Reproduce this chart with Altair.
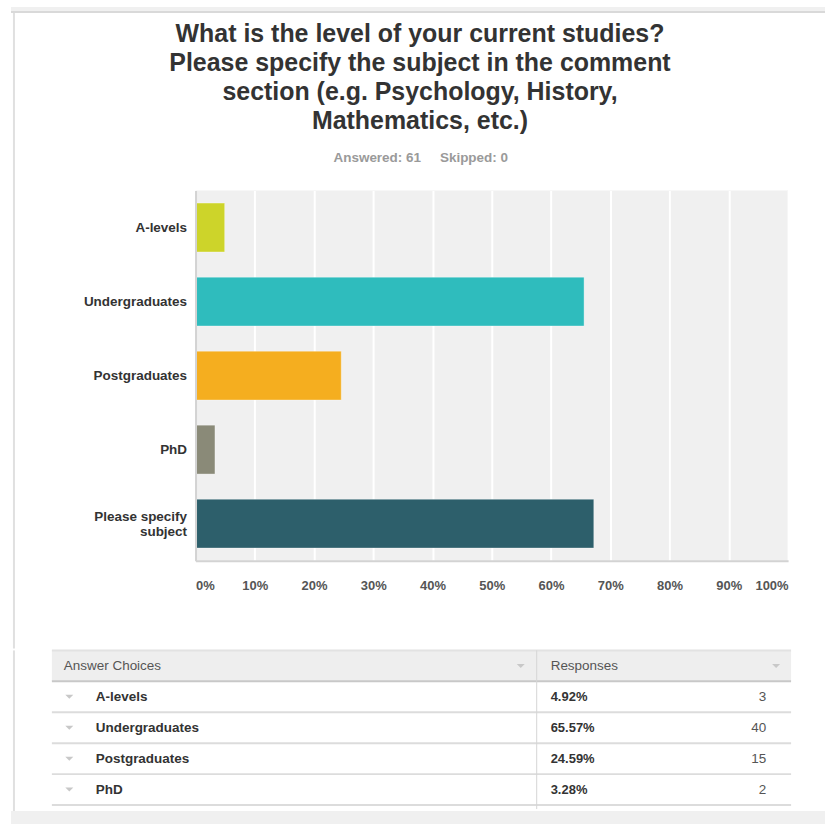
import altair as alt
import pandas as pd

# ---------------- data ----------------
categories = ["A-levels", "Undergraduates", "Postgraduates", "PhD", "Please specify subject"]
percents = [4.92, 65.57, 24.59, 3.28, 67.21]
counts = [3, 40, 15, 2, 41]
colors = ["#cdd42a", "#2fbcbd", "#f5ae1f", "#8a8a78", "#2d5f6b"]
x_ticks = [0, 10, 20, 30, 40, 50, 60, 70, 80, 90, 100]

title_lines = [
    "What is the level of your current studies?",
    "Please specify the subject in the comment",
    "section (e.g. Psychology, History,",
    "Mathematics, etc.)",
]
answered_text = "Answered: 61"
skipped_text = "Skipped: 0"

header_left = "Answer Choices"
header_right = "Responses"
table_names = ["A-levels", "Undergraduates", "Postgraduates", "PhD"]
table_pcts = ["4.92%", "65.57%", "24.59%", "3.28%"]
table_counts = [3, 40, 15, 2]

FONT = "Liberation Sans"

# ---------------- layout (absolute page px) ----------------
PL, PT, PW, PH = 195, 190, 594, 371      # bar plot area
TT, TH = 649, 161                        # table top / height
TX = PL                                  # table view shares the bar plot's left edge
T_LEFT, T_RIGHT = 51, 792                # table box edges (absolute)

one = pd.DataFrame({"d": [0]})

# ---------------- bar chart ----------------
bar_df = pd.DataFrame({"cat": categories, "pct": percents, "n": counts})

x_enc = alt.X(
    "pct:Q",
    scale=alt.Scale(domain=[0, 100], nice=False),
    axis=alt.Axis(
        title=None, values=x_ticks, labelExpr="datum.value + '%'", labelFlush=True,
        labelOverlap=False, labelFont=FONT, labelFontSize=13, labelFontWeight="bold",
        labelColor="#555555", labelPadding=19, ticks=False, domainColor="#d3d3d3",
        domainWidth=2, grid=True, gridColor="#ffffff", gridWidth=2, gridOpacity=1,
    ),
)
y_enc = alt.Y(
    "cat:N", sort=categories,
    scale=alt.Scale(domain=categories, paddingInner=0.34, paddingOuter=0.17),
    axis=alt.Axis(
        title=None, labelFont=FONT, labelFontSize=13.5, labelFontWeight="bold",
        labelColor="#333333", labelPadding=9, ticks=False, domainColor="#d3d3d3",
        domainWidth=2, labelLineHeight=15, labelLimit=300, grid=False, zindex=1,
        labelOffset={"condition": {"test": "datum.value == 'Please specify subject'", "value": -7}, "value": 0},
        labelExpr="datum.label == 'Please specify subject' ? ['Please specify', 'subject'] : datum.label",
    ),
)

bars = alt.Chart(bar_df).mark_bar(strokeWidth=1, strokeOpacity=0.35, stroke="#ffffff").encode(
    x=x_enc,
    y=y_enc,
    color=alt.Color("cat:N", scale=alt.Scale(domain=categories, range=colors), legend=None),
)

top_band = alt.Chart(one).mark_rect(color="#f0f0f0").encode(
    x=alt.value(10 - PL), x2=alt.value(826 - PL), y=alt.value(6 - PT), y2=alt.value(10 - PT))
top_line = alt.Chart(one).mark_rule(color="#cccccc", strokeWidth=1.5).encode(
    x=alt.value(10 - PL), x2=alt.value(826 - PL), y=alt.value(11 - PT))
left_line1 = alt.Chart(one).mark_rule(color="#e0e0e0", strokeWidth=2).encode(
    x=alt.value(13 - PL), y=alt.value(12 - PT), y2=alt.value(TT - PT))

title = alt.Chart(one).mark_text(
    text=title_lines, align="center", baseline="top", font=FONT, fontSize=25,
    fontWeight="bold", lineHeight=29, color="#333333",
).encode(x=alt.value(420 - PL), y=alt.value(21 - PT))

answered = alt.Chart(one).mark_text(
    text=answered_text, align="right", baseline="middle", font=FONT, fontSize=13.5,
    fontWeight="bold", color="#9a9a9a",
).encode(x=alt.value(421 - PL), y=alt.value(157 - PT))
skipped = alt.Chart(one).mark_text(
    text=skipped_text, align="left", baseline="middle", font=FONT, fontSize=13.5,
    fontWeight="bold", color="#9a9a9a",
).encode(x=alt.value(440 - PL), y=alt.value(157 - PT))

bar_chart = alt.layer(top_band, top_line, left_line1, title, answered, skipped, bars).properties(
    width=PW, height=PH, view=alt.ViewBackground(fill="#f0f0f0", stroke=None)
)

# ---------------- table ----------------
keys = [header_left] + categories
yscale = alt.Scale(domain=keys, range=[0, 31 * len(keys)], paddingInner=0, paddingOuter=0)


def tx(v):
    return alt.value(v - TX)


hdr_df = pd.DataFrame({"key": [header_left]})
header_bg = alt.Chart(hdr_df).mark_rect(color="#eeeeee").encode(
    x=tx(T_LEFT), x2=tx(T_RIGHT), y=alt.Y("key:N", scale=yscale, axis=None))

line_df = pd.DataFrame({
    "key": keys[:6],
    "c": ["#e2e2e2", "#c8c8c8", "#dcdcdc", "#dcdcdc", "#dcdcdc", "#dcdcdc"],
})
row_lines = alt.Chart(line_df).mark_rule(strokeWidth=2).encode(
    x=tx(T_LEFT), x2=tx(T_RIGHT),
    y=alt.Y("key:N", scale=yscale, axis=None, bandPosition=0),
    color=alt.Color("c:N", scale=None),
)
divider = alt.Chart(one).mark_rule(color="#d5d5d5", strokeWidth=1).encode(
    x=tx(537), y=alt.value(0), y2=alt.value(159))

hdr_text_l = alt.Chart(hdr_df).mark_text(
    text=header_left, align="left", baseline="middle", font=FONT, fontSize=13.5, color="#555555"
).encode(x=tx(63), y=alt.Y("key:N", scale=yscale, axis=None))
hdr_text_r = alt.Chart(hdr_df).mark_text(
    text=header_right, align="left", baseline="middle", font=FONT, fontSize=13.5, color="#555555"
).encode(x=tx(551), y=alt.Y("key:N", scale=yscale, axis=None))

tri_path = "M-1,-0.5L1,-0.5L0,0.5Z"
hdr_tri_l = alt.Chart(hdr_df).mark_point(shape=tri_path, filled=True, size=64, color="#c8c8c8", opacity=1).encode(
    x=tx(521), y=alt.Y("key:N", scale=yscale, axis=None))
hdr_tri_r = alt.Chart(hdr_df).mark_point(shape=tri_path, filled=True, size=64, color="#c8c8c8", opacity=1).encode(
    x=tx(777), y=alt.Y("key:N", scale=yscale, axis=None))

tbl_df = pd.DataFrame({"key": table_names, "pct": table_pcts, "n": table_counts})
base_tbl = alt.Chart(tbl_df)
row_tri = base_tbl.mark_point(shape=tri_path, filled=True, size=64, color="#c8c8c8", opacity=1).encode(
    x=tx(68.5), y=alt.Y("key:N", scale=yscale, axis=None))
row_name = base_tbl.mark_text(
    align="left", baseline="middle", font=FONT, fontSize=13.5, fontWeight="bold", color="#333333"
).encode(x=tx(95), y=alt.Y("key:N", scale=yscale, axis=None), text="key:N")
row_pct = base_tbl.mark_text(
    align="left", baseline="middle", font=FONT, fontSize=13, fontWeight="bold", color="#333333"
).encode(x=tx(551), y=alt.Y("key:N", scale=yscale, axis=None), text="pct:N")
row_n = base_tbl.mark_text(
    align="right", baseline="middle", font=FONT, fontSize=13.5, color="#555555"
).encode(x=tx(767), y=alt.Y("key:N", scale=yscale, axis=None), text="n:Q")

left_line2 = alt.Chart(one).mark_rule(color="#e0e0e0", strokeWidth=2).encode(
    x=tx(13), y=alt.value(0), y2=alt.value(TH))
bottom_band = alt.Chart(one).mark_rect(color="#f0f0f0").encode(
    x=tx(10), x2=tx(826), y=alt.value(TH), y2=alt.value(824 - TT))

table_chart = alt.layer(
    header_bg, row_lines, divider, hdr_text_l, hdr_text_r, hdr_tri_l, hdr_tri_r,
    row_tri, row_name, row_pct, row_n, left_line2, bottom_band,
).properties(width=T_RIGHT - TX, height=TH, view=alt.ViewBackground(fill="white", stroke=None))

chart = alt.vconcat(bar_chart, table_chart, spacing=0).properties(
    padding={"left": 10, "top": 6, "right": 0, "bottom": 0},
    background="white",
).configure_view(stroke=None)

chart.save("out.html", embed_options={"renderer": "svg", "actions": False})
